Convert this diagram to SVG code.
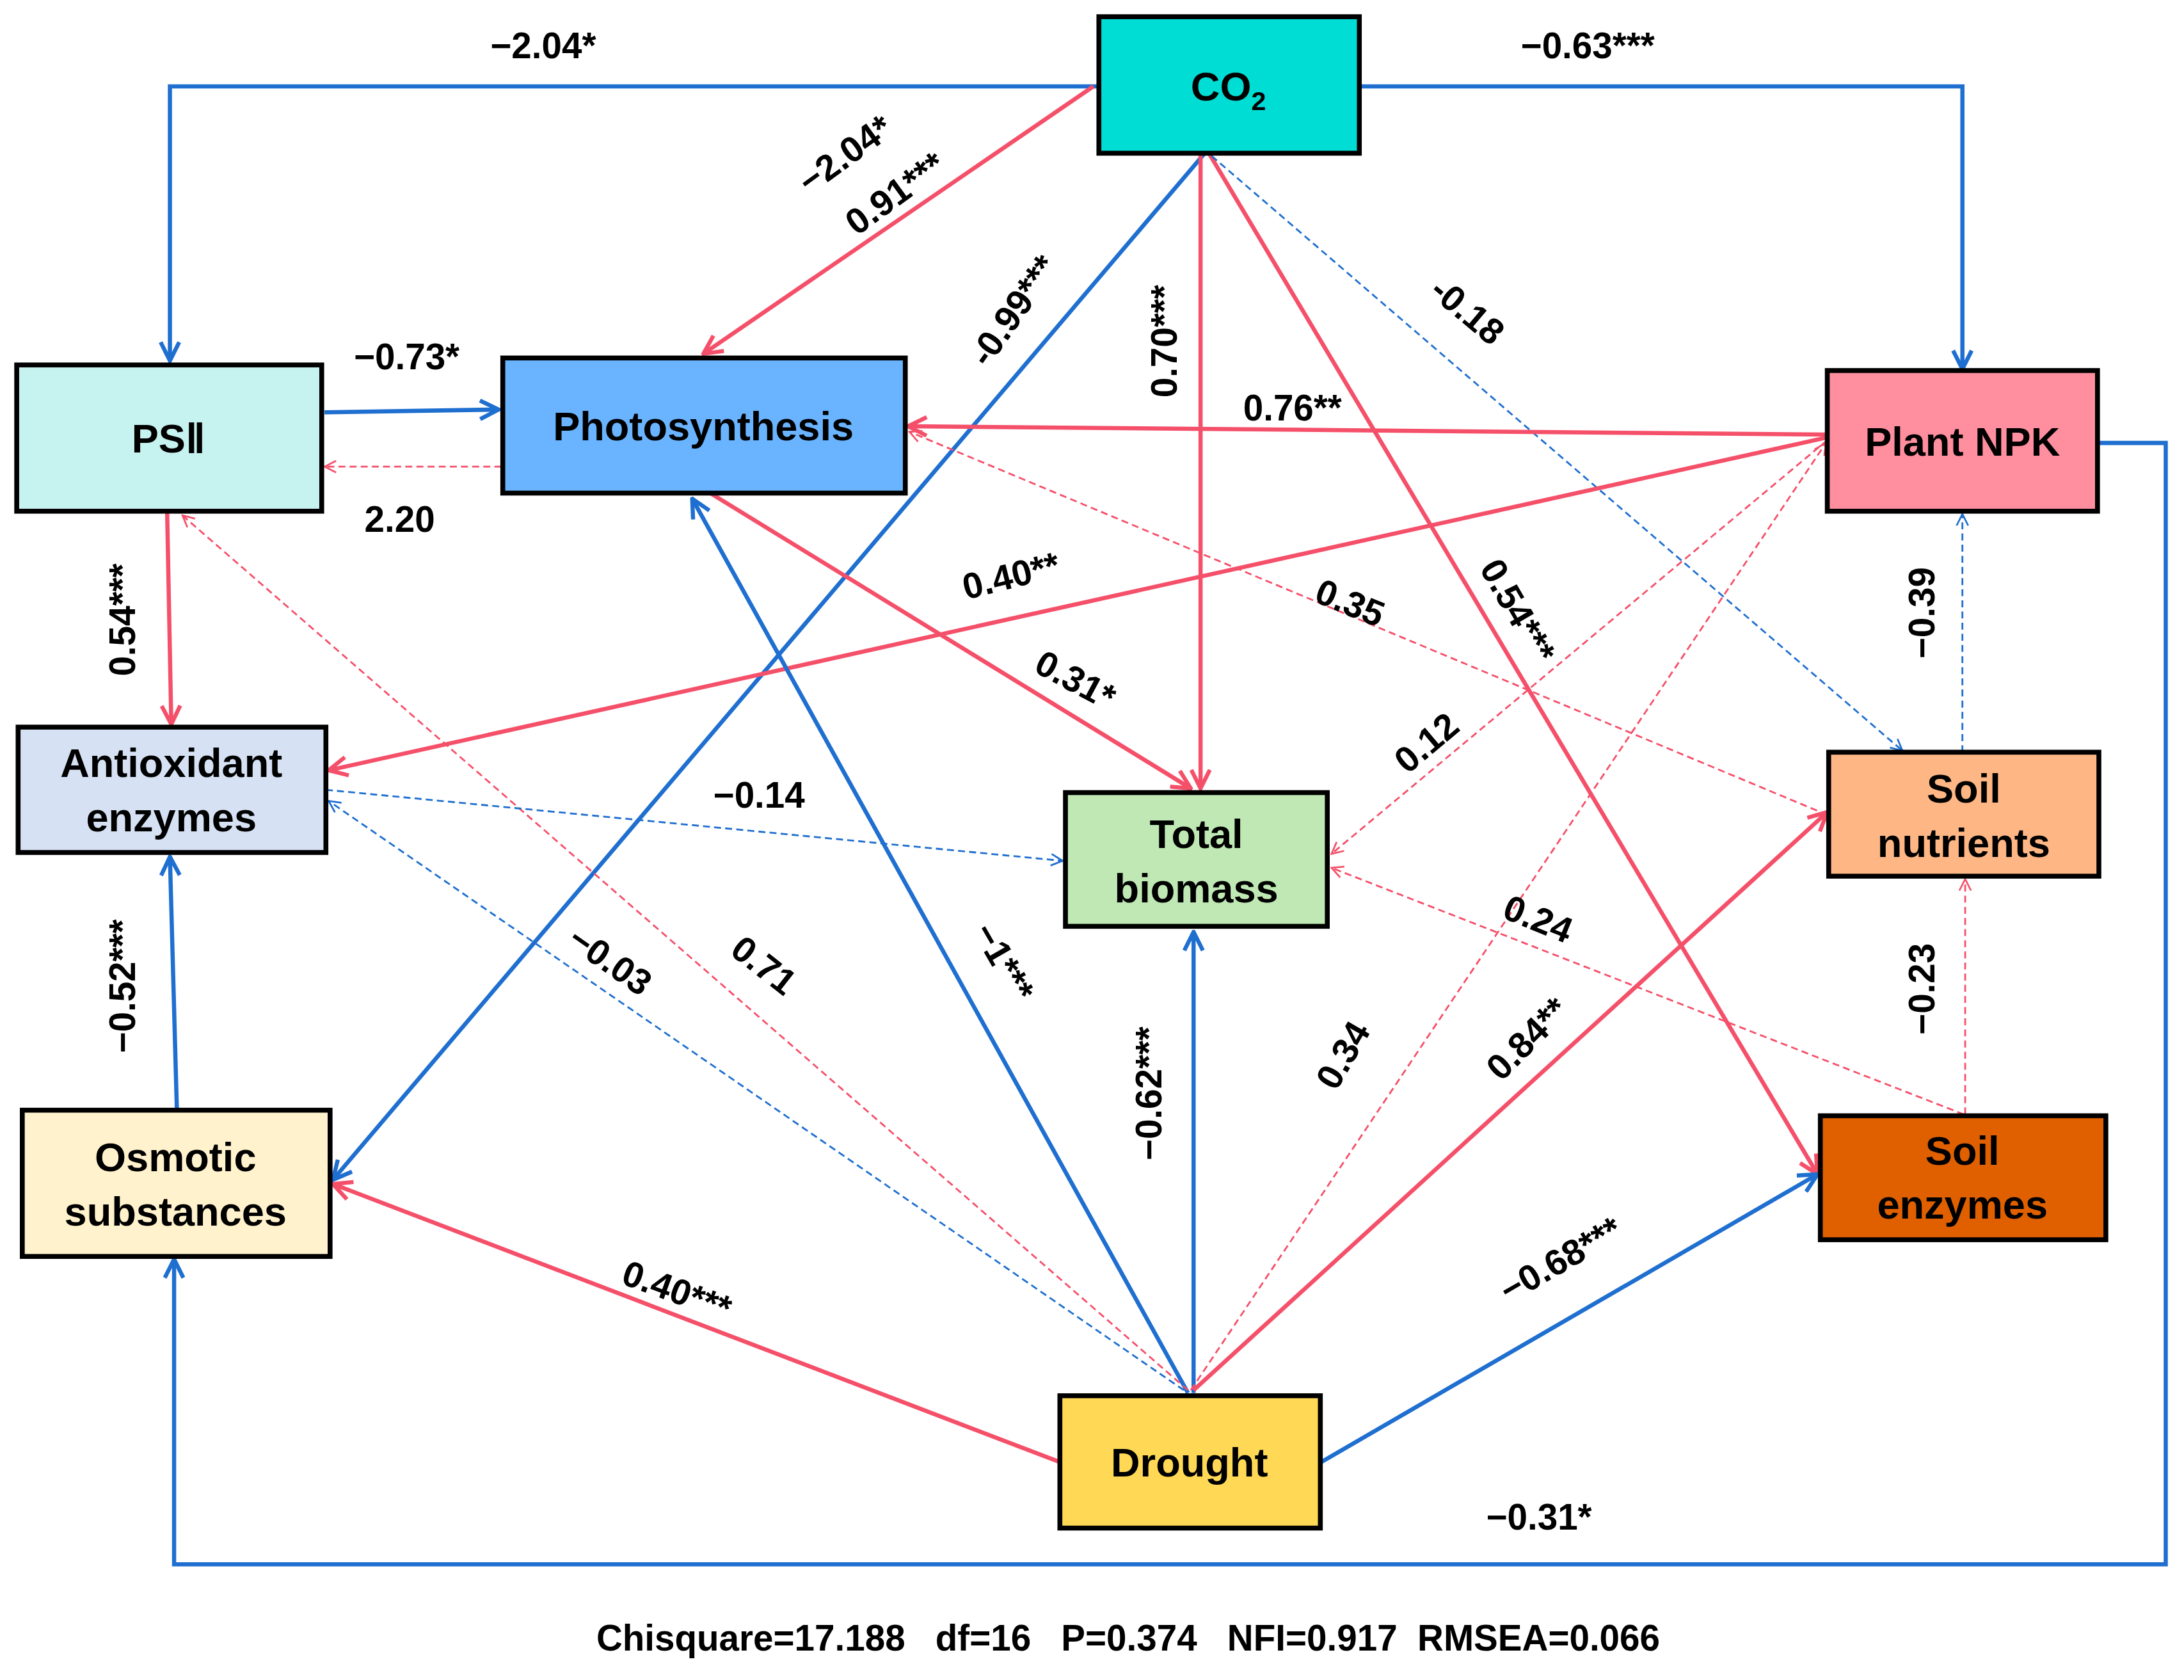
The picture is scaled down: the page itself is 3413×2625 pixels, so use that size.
<svg xmlns="http://www.w3.org/2000/svg" width="3413" height="2625" viewBox="0 0 3413 2625">
<style>
.n{stroke:#000;stroke-width:3.5}
.t{font-family:"Liberation Sans",Arial,sans-serif;font-weight:bold;font-size:29px;text-anchor:middle;fill:#000}
.l{font-family:"Liberation Sans",Arial,sans-serif;font-weight:bold;font-size:26px;text-anchor:middle;fill:#000}
.b{stroke:#1F6FD0;stroke-width:3;fill:none}
.r{stroke:#F5506A;stroke-width:3;fill:none}
.bd{stroke:#1F6FD0;stroke-width:1.3;fill:none;stroke-dasharray:5,3}
.rd{stroke:#F5506A;stroke-width:1.3;fill:none;stroke-dasharray:5,3}
</style>
<defs>
<marker id="mb" viewBox="0 0 12 12" refX="11" refY="6" markerWidth="16" markerHeight="16" orient="auto" markerUnits="userSpaceOnUse"><path d="M1,1 L11,6 L1,11" fill="none" stroke="#1F6FD0" stroke-width="2.2"/></marker>
<marker id="mr" viewBox="0 0 12 12" refX="11" refY="6" markerWidth="16" markerHeight="16" orient="auto" markerUnits="userSpaceOnUse"><path d="M1,1 L11,6 L1,11" fill="none" stroke="#F5506A" stroke-width="2.2"/></marker>
<marker id="mbd" viewBox="0 0 12 12" refX="11" refY="6" markerWidth="10" markerHeight="10" orient="auto" markerUnits="userSpaceOnUse"><path d="M1,1 L11,6 L1,11" fill="none" stroke="#1F6FD0" stroke-width="1.5"/></marker>
<marker id="mrd" viewBox="0 0 12 12" refX="11" refY="6" markerWidth="10" markerHeight="10" orient="auto" markerUnits="userSpaceOnUse"><path d="M1,1 L11,6 L1,11" fill="none" stroke="#F5506A" stroke-width="1.5"/></marker>
</defs>
<rect width="3413" height="2625" fill="#fff"/>
<g transform="scale(2.1765)">
<g id="connectors">
<polyline class="b" points="789,62 122,62 122,259" marker-end="url(#mb)"/>
<polyline class="b" points="976,62 1409,62 1409,265" marker-end="url(#mb)"/>
<line class="r" x1="785" y1="62" x2="505" y2="254" marker-end="url(#mr)"/>
<line class="b" x1="865" y1="110" x2="239" y2="847" marker-end="url(#mb)"/>
<line class="r" x1="862" y1="110" x2="862" y2="566" marker-end="url(#mr)"/>
<line class="r" x1="868" y1="110" x2="1305" y2="843" marker-end="url(#mr)"/>
<line class="bd" x1="870" y1="112" x2="1366" y2="539" marker-end="url(#mbd)"/>
<line class="r" x1="1312" y1="312" x2="652" y2="306" marker-end="url(#mr)"/>
<line class="r" x1="1312" y1="314" x2="236" y2="553" marker-end="url(#mr)"/>
<polyline class="b" points="1506,318 1555,318 1555,1123 125,1123 125,904" marker-end="url(#mb)"/>
<line class="b" x1="233" y1="296" x2="358" y2="294" marker-end="url(#mb)"/>
<line class="rd" x1="360" y1="335" x2="233" y2="335" marker-end="url(#mrd)"/>
<line class="r" x1="120" y1="367" x2="123" y2="520" marker-end="url(#mr)"/>
<line class="r" x1="510" y1="354" x2="855" y2="566" marker-end="url(#mr)"/>
<line class="b" x1="853" y1="1000" x2="497" y2="358" marker-end="url(#mb)"/>
<line class="rd" x1="853" y1="998" x2="131" y2="370" marker-end="url(#mrd)"/>
<line class="bd" x1="234" y1="567" x2="763" y2="618" marker-end="url(#mbd)"/>
<line class="bd" x1="850" y1="998" x2="236" y2="575" marker-end="url(#mbd)"/>
<line class="b" x1="857" y1="1000" x2="857" y2="669" marker-end="url(#mb)"/>
<line class="rd" x1="855" y1="998" x2="1311" y2="318" marker-end="url(#mrd)"/>
<line class="r" x1="857" y1="998" x2="1312" y2="583" marker-end="url(#mr)"/>
<line class="r" x1="762" y1="1050" x2="239" y2="850" marker-end="url(#mr)"/>
<line class="b" x1="948" y1="1050" x2="1305" y2="843" marker-end="url(#mb)"/>
<line class="rd" x1="1312" y1="316" x2="956" y2="613" marker-end="url(#mrd)"/>
<line class="rd" x1="1312" y1="585" x2="653" y2="310" marker-end="url(#mrd)"/>
<line class="rd" x1="1410" y1="800" x2="956" y2="623" marker-end="url(#mrd)"/>
<line class="bd" x1="1409" y1="540" x2="1409" y2="369" marker-end="url(#mbd)"/>
<line class="rd" x1="1411" y1="800" x2="1411" y2="631" marker-end="url(#mrd)"/>
<line class="b" x1="127" y1="797" x2="122" y2="615" marker-end="url(#mb)"/>
</g>
<g id="labels">
<text class="l" x="390" y="42">−2.04*</text>
<text class="l" x="1140" y="42">−0.63***</text>
<text class="l" transform="translate(612,118) rotate(-36)">−2.04*</text>
<text class="l" transform="translate(648,146) rotate(-36)">0.91***</text>
<text class="l" transform="translate(735,228) rotate(-55)">-0.99***</text>
<text class="l" transform="translate(845,245) rotate(-90)">0.70***</text>
<text class="l" transform="translate(1082,443) rotate(60)">0.54***</text>
<text class="l" transform="translate(1048,230) rotate(40)">-0.18</text>
<text class="l" x="928" y="302">0.76**</text>
<text class="l" transform="translate(728,422) rotate(-14)">0.40**</text>
<text class="l" x="1105" y="1098">−0.31*</text>
<text class="l" x="292" y="265">−0.73*</text>
<text class="l" x="287" y="382">2.20</text>
<text class="l" transform="translate(97,445) rotate(-90)">0.54***</text>
<text class="l" transform="translate(768,496) rotate(28)">0.31*</text>
<text class="l" transform="translate(713,695) rotate(60)">−1***</text>
<text class="l" transform="translate(543,700) rotate(38)">0.71</text>
<text class="l" x="545" y="580">−0.14</text>
<text class="l" transform="translate(433,697) rotate(35)">−0.03</text>
<text class="l" transform="translate(834,785) rotate(-90)">−0.62***</text>
<text class="l" transform="translate(972,762) rotate(-60)">0.34</text>
<text class="l" transform="translate(1103,752) rotate(-45)">0.84**</text>
<text class="l" transform="translate(483,935) rotate(20)">0.40***</text>
<text class="l" transform="translate(1125,912) rotate(-30)">−0.68***</text>
<text class="l" transform="translate(1030,540) rotate(-40)">0.12</text>
<text class="l" transform="translate(966,441) rotate(22)">0.35</text>
<text class="l" transform="translate(1101,668) rotate(22)">0.24</text>
<text class="l" transform="translate(1389,440) rotate(-90)">−0.39</text>
<text class="l" transform="translate(1389,710) rotate(-90)">−0.23</text>
<text class="l" transform="translate(97,708) rotate(-90)">−0.52***</text>
</g>
<g id="co2"><rect class="n" x="789" y="12" width="187" height="98" fill="#00DDD5"/><text class="t" x="882" y="72">CO<tspan font-size="19" dy="7">2</tspan></text></g>
<g id="psii"><rect class="n" x="12" y="262" width="219" height="105" fill="#C6F2EF"/><text class="t" x="121" y="325">PSⅡ</text></g>
<g id="photosynthesis"><rect class="n" x="361" y="257" width="289" height="97" fill="#6AB4FF"/><text class="t" x="505" y="316">Photosynthesis</text></g>
<g id="plantnpk"><rect class="n" x="1312" y="266" width="194" height="101" fill="#FF8F9F"/><text class="t" x="1409" y="327">Plant  NPK</text></g>
<g id="antioxidant"><rect class="n" x="13" y="522" width="221" height="90" fill="#D6E2F4"/><text class="t" x="123" y="558">Antioxidant</text><text class="t" x="123" y="597">enzymes</text></g>
<g id="totalbiomass"><rect class="n" x="765" y="569" width="188" height="96" fill="#BFE8B4"/><text class="t" x="859" y="609">Total</text><text class="t" x="859" y="648">biomass</text></g>
<g id="soilnutrients"><rect class="n" x="1313" y="540" width="194" height="89" fill="#FDB684"/><text class="t" x="1410" y="576">Soil</text><text class="t" x="1410" y="615">nutrients</text></g>
<g id="osmotic"><rect class="n" x="16" y="797" width="221" height="105" fill="#FFF2CC"/><text class="t" x="126" y="841">Osmotic</text><text class="t" x="126" y="880">substances</text></g>
<g id="soilenzymes"><rect class="n" x="1307" y="801" width="205" height="89" fill="#E06000"/><text class="t" x="1409" y="836">Soil</text><text class="t" x="1409" y="875">enzymes</text></g>
<g id="drought"><rect class="n" x="761" y="1002" width="187" height="95" fill="#FFD955"/><text class="t" x="854" y="1060">Drought</text></g>
<text class="l" x="810" y="1185" font-size="27" xml:space="preserve">Chisquare=17.188   df=16   P=0.374   NFI=0.917  RMSEA=0.066</text>
</g>
</svg>
